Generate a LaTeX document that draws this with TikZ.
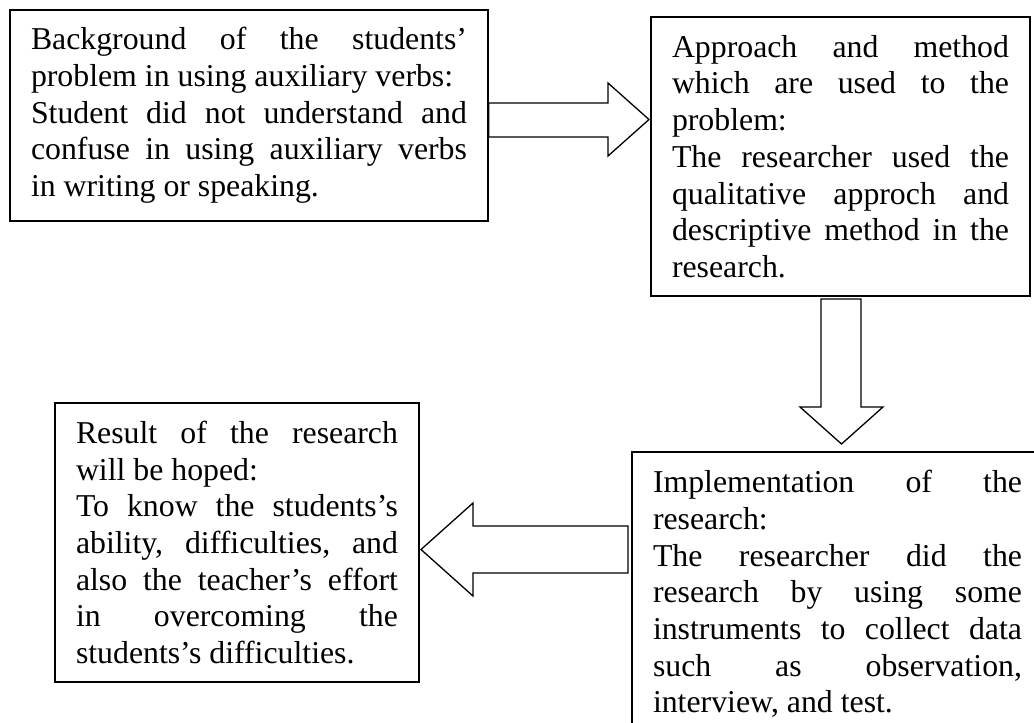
\documentclass[tikz,border=0pt]{standalone}
\usepackage{fontspec}
\setmainfont{Liberation Serif}
\newcommand\J[2]{\leavevmode\hbox to #1{\spaceskip=0pt\xspaceskip=0pt #2}}
\newcommand\N{\spaceskip=0pt\xspaceskip=0pt }
\begin{document}
\begin{tikzpicture}[x=1pt,y=-1pt,
  box/.style={draw, line width=1.6pt, inner sep=0pt, align=left,
    font=\fontsize{31.8pt}{36.7pt}\selectfont, anchor=center},
  blockarrow/.style={draw, line width=1.3pt, line join=miter}]
\useasboundingbox (0,0) rectangle (1034,723);
\clip (0,0) rectangle (1034,723);
\fill[white] (0,0) rectangle (1034,723);

\node[box, minimum width=478pt, minimum height=211pt, text width=436pt] (b1) at (249,115.5)
 {\N\J{436pt}{Background of the students’}\\problem in using auxiliary verbs:\\\J{436pt}{Student did not understand and}\\\J{436pt}{confuse in using auxiliary verbs}\\in writing or speaking.};

\node[box, minimum width=379pt, minimum height=279pt, text width=337pt] (b2) at (840.5,156.5)
 {\N\J{337pt}{Approach and method}\\\J{337pt}{which are used to the}\\problem:\\\J{337pt}{The researcher used the}\\\J{337pt}{qualitative approch and}\\\J{337pt}{descriptive method in the}\\research.};

\node[box, minimum width=364pt, minimum height=279pt, text width=322pt] (b3) at (237,542.5)
 {\N\J{322pt}{Result of the research}\\will be hoped:\\\J{322pt}{To know the students’s}\\\J{322pt}{ability, difficulties, and}\\\J{322pt}{also the teacher’s effort}\\\J{322pt}{in overcoming the}\\students’s difficulties.};

\node[box, minimum width=411pt, minimum height=284pt, text width=369pt] (b4) at (837.5,594)
 {\N\J{369pt}{Implementation of the}\\research:\\\J{369pt}{The researcher did the}\\\J{369pt}{research by using some}\\\J{369pt}{instruments to collect data}\\\J{369pt}{such as observation,}\\interview, and test.};

% right block arrow b1 -> b2
\draw[blockarrow] (b1.east |- 0,103) -- (608,103) -- (608,83) -- (649,119.5)
  -- (608,156) -- (608,137) -- (b1.east |- 0,137) -- cycle;
% down block arrow b2 -> b4
\draw[blockarrow] (821,299) -- (821,407) -- (800,407) -- (841.5,444)
  -- (883,407) -- (861,407) -- (861,299) -- cycle;
% left block arrow b4 -> b3
\draw[blockarrow] (628,526) -- (473,526) -- (473,503) -- (421,549.5)
  -- (473,596) -- (473,573) -- (628,573) -- cycle;
\end{tikzpicture}
\end{document}
